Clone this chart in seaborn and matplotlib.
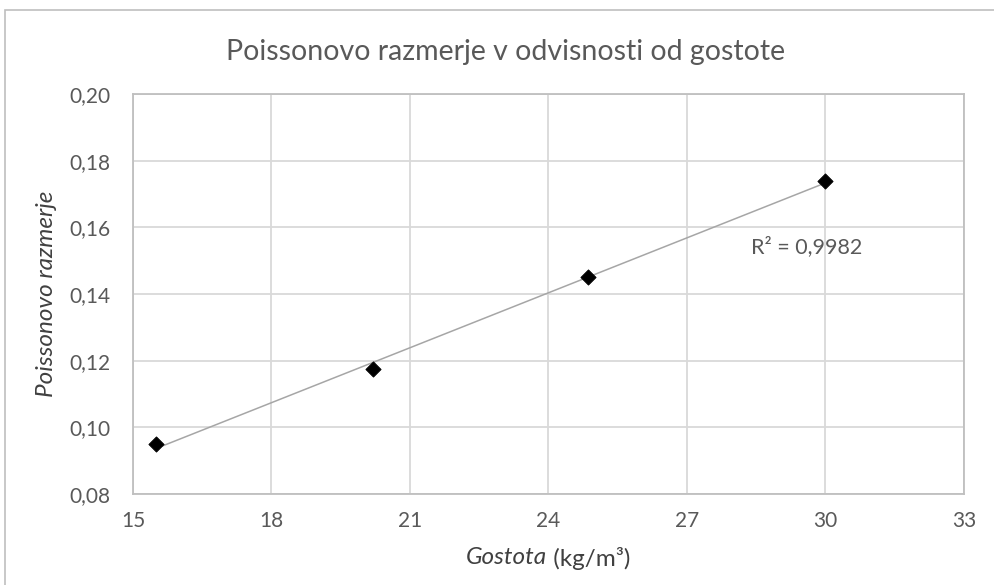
import numpy as np
import seaborn as sns
from matplotlib import pyplot as plt
from matplotlib.patches import Rectangle
from matplotlib.ticker import FuncFormatter

# data
gostota = [15.5, 20.2, 24.85, 30.0]
poisson = [0.095, 0.1175, 0.145, 0.174]
x_ticks = [15, 18, 21, 24, 27, 30, 33]
y_ticks = [0.08, 0.10, 0.12, 0.14, 0.16, 0.18, 0.20]
r2_label = 'R² = 0,9982'

sns.set_style('white')
plt.rcParams['font.family'] = ['Lato', 'DejaVu Sans']

TXT = '#595959'
LAB = '#404040'
GRID = '#d9d9d9'

fig = plt.figure(figsize=(9.94, 5.85), dpi=100)
ax = fig.add_axes([0.1338, 0.1556, 0.836, 0.6837])

# chart frame (only top/left visible in the reference)
fig.patches.append(Rectangle((5 / 994, -0.1), 1.2, 1 - 10 / 585 + 0.1,
                             transform=fig.transFigure, fill=False,
                             edgecolor='#bfbfbf', linewidth=1.2))

# linear trendline
coef = np.polyfit(gostota, poisson, 1)
x_fit = np.array([min(gostota), max(gostota)])
sns.lineplot(x=x_fit, y=np.polyval(coef, x_fit), ax=ax, color='#a6a6a6', linewidth=1.1)

sns.scatterplot(x=gostota, y=poisson, ax=ax, marker='D', s=60, color='black',
                edgecolor='black', zorder=5)

ax.set_xlim(15, 33)
ax.set_ylim(0.08, 0.20)
ax.set_xticks(x_ticks)
ax.set_yticks(y_ticks)
ax.yaxis.set_major_formatter(FuncFormatter(lambda v, _: f'{v:.2f}'.replace('.', ',')))
ax.grid(True, color=GRID, linewidth=1.3)
ax.set_axisbelow(True)
for sp in ax.spines.values():
    sp.set_color('#bfbfbf')
    sp.set_linewidth(1.3)
ax.tick_params(axis='x', length=0, labelsize=15, labelcolor=TXT, pad=12)
ax.tick_params(axis='y', length=0, labelsize=15, labelcolor=TXT, pad=16)

ax.set_ylabel('Poissonovo razmerje', fontsize=17.5, color=LAB, style='italic', labelpad=9)

# title is centred on the whole chart area, not the plot area
fig.text(506 / 994, 1 - 52 / 585, 'Poissonovo razmerje v odvisnosti od gostote',
         fontsize=20.5, color=TXT, ha='center', va='center')

ax.text(28.38, 0.1541, r2_label, fontsize=15.5, color=TXT, va='center')

# x label: italic "Gostota" followed by upright unit, centred under the axes
y_lab = 1 - 558 / 585
t1 = fig.text(0, y_lab, 'Gostota', fontsize=17.5, style='italic', color=LAB, va='center')
t2 = fig.text(0, y_lab, ' (kg/m³)', fontsize=17.5, color=LAB, va='center')
fig.canvas.draw()
r = fig.canvas.get_renderer()
w1 = t1.get_window_extent(r).width
w2 = t2.get_window_extent(r).width
cx = ax.get_window_extent(r).x0 + ax.get_window_extent(r).width / 2
W = fig.bbox.width
t1.set_x((cx - (w1 + w2) / 2) / W)
t2.set_x((cx - (w1 + w2) / 2 + w1) / W)

fig.savefig('out.png', dpi=100)
